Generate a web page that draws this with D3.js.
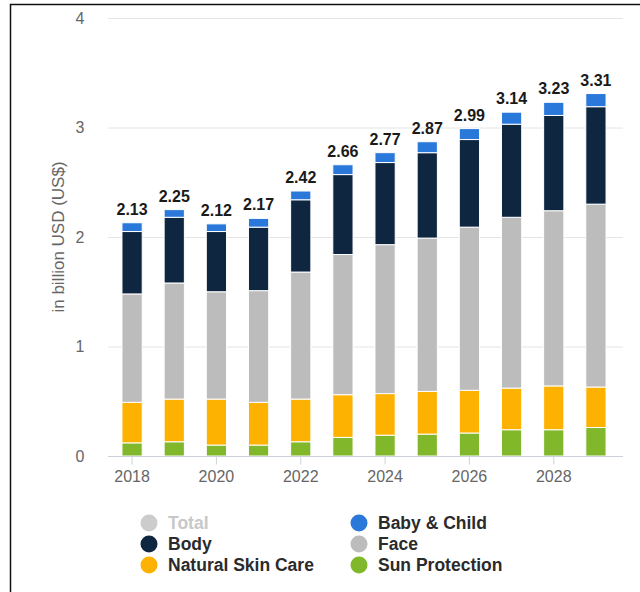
<!DOCTYPE html>
<html>
<head>
<meta charset="utf-8">
<script src="https://cdn.jsdelivr.net/npm/d3@7"></script>
<style>
  html, body { margin: 0; padding: 0; background: #fff; }
  svg { display: block; font-family: "Liberation Sans", Arial, sans-serif; }
</style>
</head>
<body>
<svg id="chart" width="640" height="592"></svg>
<script>
const years = ["2018","2019","2020","2021","2022","2023","2024","2025","2026","2027","2028","2029"];
const sunProtection = [0.12, 0.13, 0.10, 0.10, 0.13, 0.17, 0.19, 0.20, 0.21, 0.24, 0.24, 0.26];
const naturalSkinCare = [0.37, 0.39, 0.42, 0.39, 0.39, 0.39, 0.38, 0.39, 0.39, 0.38, 0.40, 0.37];
const face = [0.99, 1.06, 0.98, 1.02, 1.16, 1.28, 1.36, 1.40, 1.49, 1.56, 1.60, 1.67];
const body = [0.57, 0.60, 0.55, 0.58, 0.66, 0.73, 0.75, 0.78, 0.80, 0.85, 0.87, 0.89];
const babyChild = [0.08, 0.07, 0.07, 0.08, 0.08, 0.09, 0.09, 0.10, 0.10, 0.11, 0.12, 0.12];
const totals = [2.13, 2.25, 2.12, 2.17, 2.42, 2.66, 2.77, 2.87, 2.99, 3.14, 3.23, 3.31];
const yTicks = [0, 1, 2, 3, 4];
const xTickLabels = ["2018","2020","2022","2024","2026","2028"];
const seriesNames = ["Sun Protection", "Natural Skin Care", "Face", "Body", "Baby & Child"];
const seriesColors = ["#80b72b", "#fdb100", "#bcbcbc", "#0f2641", "#2a78d9"];
const legendItems = [
  {name: "Total", color: "#cccccc", text: "#c8c8c8"},
  {name: "Body", color: "#0f2641", text: "#2b2b2b"},
  {name: "Natural Skin Care", color: "#fdb100", text: "#2b2b2b"},
  {name: "Baby & Child", color: "#2a78d9", text: "#2b2b2b"},
  {name: "Face", color: "#bcbcbc", text: "#2b2b2b"},
  {name: "Sun Protection", color: "#80b72b", text: "#2b2b2b"}
];

const svg = d3.select("#chart");

// frame
svg.append("path").attr("d", "M10.5,592 V4.5 H640").attr("fill", "none")
  .attr("stroke", "#111").attr("stroke-width", 1.5);

const y = d3.scaleLinear().domain([0, 4]).range([456, 18]);
const x = d3.scaleBand().domain(years).range([111, 617]).paddingInner(0.52).paddingOuter(0.26);

// gridlines
svg.append("g").selectAll("line").data(yTicks.filter(d => d > 0)).join("line")
  .attr("x1", 108).attr("x2", 623)
  .attr("y1", d => y(d) + 0.5).attr("y2", d => y(d) + 0.5)
  .attr("stroke", "#e4e4e4").attr("stroke-width", 1);

// y tick labels
svg.append("g").selectAll("text").data(yTicks).join("text")
  .attr("x", 80).attr("y", d => y(d)).attr("dy", "0.35em")
  .attr("text-anchor", "middle").attr("font-size", 16).attr("fill", "#666")
  .text(d => d);

// y axis title
svg.append("text")
  .attr("transform", `translate(58, ${(y(0) + y(4)) / 2}) rotate(-90)`)
  .attr("dy", "0.35em")
  .attr("text-anchor", "middle").attr("font-size", 17).attr("fill", "#666")
  .text("in billion USD (US$)");

// stacked bars
const rows = years.map((yr, i) => ({
  year: yr,
  "Sun Protection": sunProtection[i],
  "Natural Skin Care": naturalSkinCare[i],
  "Face": face[i],
  "Body": body[i],
  "Baby & Child": babyChild[i]
}));
const stack = d3.stack().keys(seriesNames)(rows);
svg.append("g").selectAll("g").data(stack).join("g")
  .attr("fill", (d, i) => seriesColors[i])
  .selectAll("rect").data(d => d).join("rect")
  .attr("x", d => x(d.data.year))
  .attr("width", x.bandwidth())
  .attr("y", d => y(d[1]))
  .attr("height", d => y(d[0]) - y(d[1]))
  .attr("stroke", "#fff").attr("stroke-width", 1);

// x axis baseline
const xAxis = d3.axisBottom(x).tickValues(xTickLabels).tickSize(8).tickPadding(6).tickSizeOuter(0);
const gx = svg.append("g").attr("transform", `translate(0, ${y(0) + 0.5})`).call(xAxis);
gx.select(".domain").remove();
gx.append("line").attr("x1", 108).attr("x2", 623).attr("stroke", "#ccd1d9");
gx.selectAll(".tick line").attr("stroke", "#ccd1d9");
gx.selectAll(".tick text").attr("font-size", 16).attr("fill", "#666")
  .attr("font-family", "Liberation Sans, Arial, sans-serif");

// total labels
svg.append("g").selectAll("text").data(years).join("text")
  .attr("x", d => x(d) + x.bandwidth() / 2)
  .attr("y", (d, i) => y(totals[i]) - 8)
  .attr("text-anchor", "middle").attr("font-size", 16).attr("font-weight", "bold")
  .attr("fill", "#1a1a1a")
  .text((d, i) => totals[i].toFixed(2));

// legend
const lg = svg.append("g").selectAll("g").data(legendItems).join("g")
  .attr("transform", (d, i) => `translate(${i < 3 ? 149 : 359}, ${523 + (i % 3) * 21})`);
lg.append("circle").attr("r", 8.5).attr("fill", d => d.color);
lg.append("text").attr("x", 19).attr("dy", "0.36em")
  .attr("font-size", 17.5).attr("font-weight", "bold").attr("fill", d => d.text)
  .text(d => d.name);
</script>
</body>
</html>
